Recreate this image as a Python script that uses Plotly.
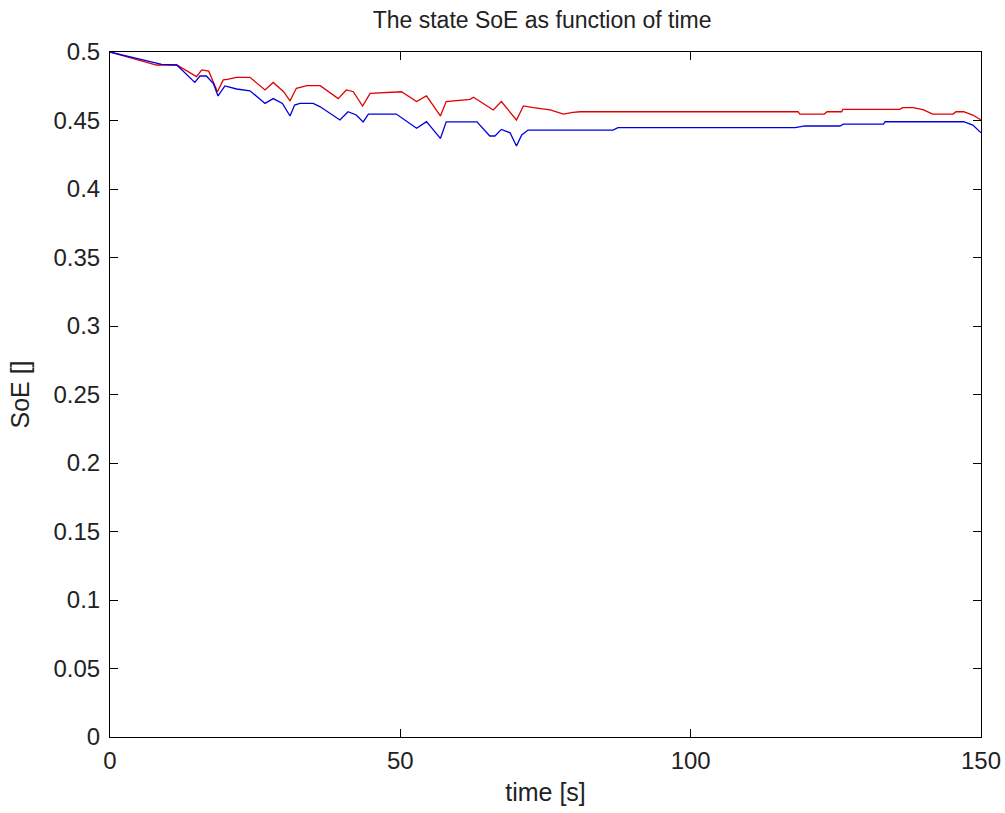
import plotly.graph_objects as go

# Red series (time [s], SoE)
t_red = [0, 3, 8, 11.5, 14.9, 15.8, 17, 18.5, 19.5, 20.2, 21.8, 24.1, 26.7, 28.1, 29.9, 31, 32.1,
         33.9, 36.2, 39.3, 40.7, 41.9, 43.5, 44.8, 49.9, 50.2, 52.8, 54.5, 56.9, 57.9, 62, 62.6,
         66, 67.4, 70, 71.2, 72.9, 75.8, 78.1, 79.7, 81, 98, 118.5, 118.8, 123, 123.5, 126, 126.2,
         136, 136.5, 138.3, 140, 141.7, 145.2, 145.7, 147, 148.6, 150]
soe_red = [0.5, 0.4965, 0.4905, 0.4905, 0.482, 0.4869, 0.486, 0.471, 0.4796, 0.48, 0.4815, 0.4815,
           0.4723, 0.4778, 0.471, 0.4644, 0.4735, 0.4754, 0.4754, 0.466, 0.4723, 0.471, 0.4606,
           0.4698, 0.4708, 0.471, 0.4638, 0.4679, 0.4533, 0.4638, 0.4654, 0.467, 0.4577, 0.4638,
           0.4504, 0.4606, 0.4594, 0.4577, 0.4547, 0.456, 0.4564, 0.4564, 0.4564, 0.4547, 0.4547,
           0.4564, 0.4564, 0.4581, 0.4581, 0.4594, 0.4594, 0.458, 0.4547, 0.4547, 0.4564, 0.4564,
           0.454, 0.4504]

# Blue series (time [s], SoE)
t_blue = [0, 3, 6.9, 8.9, 11.5, 14.6, 15.5, 16.6, 17.8, 18.6, 19.8, 21.8, 24.1, 26.7, 28.1, 29.7,
          31, 31.8, 32.7, 35, 36.2, 39.6, 41, 42.4, 43.6, 44.5, 49.3, 52.8, 54.5, 56.9, 57.9, 63.2,
          65.4, 66.3, 67.4, 68.9, 70, 70.9, 72, 86.6, 87.5, 118, 119.7, 125.7, 126.3, 133.2, 133.5,
          147, 148.6, 150]
soe_blue = [0.5, 0.497, 0.4929, 0.491, 0.4905, 0.4778, 0.4825, 0.4825, 0.477, 0.4679, 0.4752,
            0.473, 0.4717, 0.4625, 0.466, 0.4625, 0.4533, 0.4613, 0.4625, 0.4625, 0.46, 0.4504,
            0.4564, 0.454, 0.449, 0.4547, 0.4547, 0.4443, 0.4492, 0.4369, 0.449, 0.449, 0.4387,
            0.4387, 0.4435, 0.441, 0.4314, 0.4394, 0.443, 0.443, 0.4448, 0.4448, 0.446, 0.446,
            0.4474, 0.4474, 0.4491, 0.4491, 0.4467, 0.441]

x_ticks = [0, 50, 100, 150]
y_ticks = [0, 0.05, 0.1, 0.15, 0.2, 0.25, 0.3, 0.35, 0.4, 0.45, 0.5]
y_ticklabels = ["0", "0.05", "0.1", "0.15", "0.2", "0.25", "0.3", "0.35", "0.4", "0.45", "0.5"]

fig = go.Figure()
fig.add_trace(go.Scatter(x=t_red, y=soe_red, mode="lines",
                         line=dict(color="#e00000", width=1.3), showlegend=False))
fig.add_trace(go.Scatter(x=t_blue, y=soe_blue, mode="lines",
                         line=dict(color="#0000e0", width=1.3), showlegend=False))

font = "Liberation Sans, Arial, sans-serif"
axis_common = dict(showline=True, linecolor="black", linewidth=1, mirror="allticks",
                   ticks="inside", ticklen=8, tickcolor="black", showgrid=False, zeroline=False,
                   automargin=False,
                   tickfont=dict(family=font, size=24, color="#222"))

fig.update_layout(
    width=1005, height=813,
    margin=dict(l=110, r=24, t=52, b=76),
    paper_bgcolor="white", plot_bgcolor="white",
    title=dict(text="The state SoE as function of time", x=0.5394, xanchor="center",
               y=0.975, yanchor="middle", font=dict(family=font, size=23, color="#222")),
    xaxis=dict(range=[0, 150], tickvals=x_ticks, ticklabelstandoff=2,
               title=dict(text="time [s]", font=dict(family=font, size=25, color="#222"), standoff=10),
               **axis_common),
    yaxis=dict(range=[0, 0.5], tickvals=y_ticks, ticktext=y_ticklabels, ticklabelstandoff=4,
               title=dict(text="SoE []", font=dict(family=font, size=25, color="#222"), standoff=16),
               **axis_common),
)

fig.write_html("out.html")
